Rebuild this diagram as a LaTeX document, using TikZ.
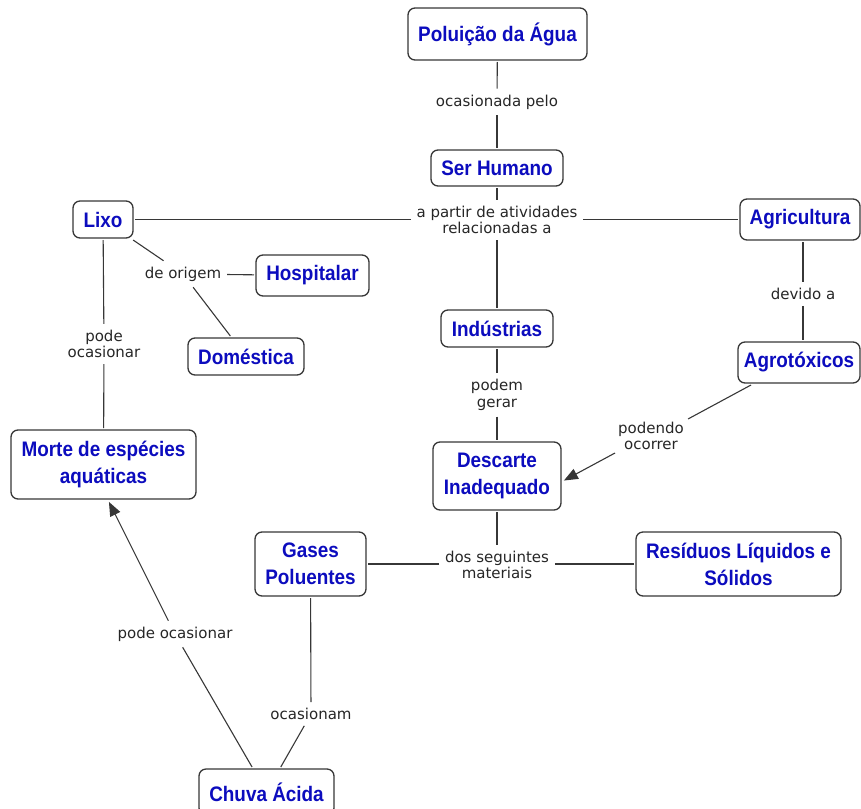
\documentclass[tikz,border=0pt]{standalone}
\usepackage{fontspec}
\usetikzlibrary{arrows.meta}
\newfontfamily\cfontfam[FakeStretch=0.9]{Liberation Sans}
\newfontfamily\lfontfam{DejaVu Sans}
\newcommand{\cfont}{\cfontfam\bfseries\fontsize{21}{27}\selectfont}
\newcommand{\lfont}{\lfontfam\fontsize{15}{16.5}\selectfont}
\definecolor{cblue}{RGB}{12,12,190}
\definecolor{lgray}{RGB}{55,55,55}
\tikzset{
  concept/.style={draw=lgray, line width=1.3pt, rounded corners=7pt, fill=white,
    font=\cfont, text=cblue, align=center, inner sep=2pt, outer sep=2pt},
  lbl/.style={font=\lfont, text=black!85, align=center, inner sep=3pt, outer sep=3pt},
  conn/.style={draw=lgray, line width=1.1pt},
  arr/.style={conn, -{Triangle[length=14pt,width=11pt]}, shorten >=1pt}
}
\begin{document}
\begin{tikzpicture}[x=1pt,y=-1pt]
\useasboundingbox (0,0) rectangle (861,808);
% concepts
\node[concept, minimum width=179, minimum height=52] (pol) at (497.5,34) {Poluição da Água};
\node[concept, minimum width=132, minimum height=36] (ser) at (497,168) {Ser Humano};
\node[concept, minimum width=60, minimum height=37] (lixo) at (103,219.5) {Lixo};
\node[concept, minimum width=120, minimum height=41] (agri) at (800,219.5) {Agricultura};
\node[concept, minimum width=113, minimum height=41] (hosp) at (312.5,275.5) {Hospitalar};
\node[concept, minimum width=116, minimum height=37] (dom) at (246,356.5) {Doméstica};
\node[concept, minimum width=112, minimum height=37] (ind) at (497,328.5) {Indústrias};
\node[concept, minimum width=122, minimum height=41] (agro) at (799,362.5) {Agrotóxicos};
\node[concept, minimum width=185, minimum height=69] (morte) at (103.5,464.5) {Morte de espécies\\aquáticas};
\node[concept, minimum width=128, minimum height=68] (desc) at (497,476) {Descarte\\Inadequado};
\node[concept, minimum width=111, minimum height=64] (gases) at (310.5,564) {Gases\\Poluentes};
\node[concept, minimum width=205, minimum height=64] (res) at (738.5,564) {Resíduos Líquidos e\\Sólidos};
\node[concept, minimum width=135, minimum height=46] (chuva) at (266.5,792) {Chuva Ácida};
% labels
\node[lbl] (l1) at (497,102) {ocasionada pelo};
\node[lbl] (l2) at (497,220) {a partir de atividades\\relacionadas a};
\node[lbl] (l3) at (183,274) {de origem};
\node[lbl] (l4) at (104,344) {pode\\ocasionar};
\node[lbl] (l5) at (803,294) {devido a};
\node[lbl] (l6) at (497,395) {podem\\gerar};
\node[lbl] (l7) at (651,436) {podendo\\ocorrer};
\node[lbl] (l8) at (497,565) {dos seguintes\\materiais};
\node[lbl] (l9) at (175,634) {pode ocasionar};
\node[lbl] (l10) at (311,714) {ocasionam};
\coordinate (l7in) at (688,419);
\coordinate (l7out) at (615,453);
% connectors
\draw[conn] (pol) -- (l1);
\draw[conn] (l1) -- (ser);
\draw[conn] (ser) -- (l2);
\draw[conn] (l2.west |- lixo) -- (lixo.east);
\draw[conn] (l2.east |- agri) -- (agri.west);
\draw[conn] (l2) -- (ind);
\draw[conn] (lixo) -- (l3);
\draw[conn] (l3) -- (hosp);
\draw[conn] (l3) -- (dom);
\draw[conn] (lixo) -- (l4);
\draw[conn] (l4) -- (morte);
\draw[conn] (agri.south -| l5) -- (l5);
\draw[conn] (l5) -- (agro.north -| l5);
\draw[conn] ([xshift=15pt]agro.south west) -- (l7in);
\draw[arr] (l7out) -- ([yshift=-5pt]desc.east);
\draw[conn] (ind) -- (l6);
\draw[conn] (l6) -- (desc);
\draw[conn] (desc) -- (l8);
\draw[conn] (l8.west |- gases) -- (gases.east);
\draw[conn] (l8.east |- res) -- (res.west);
\draw[conn] (gases) -- (l10);
\draw[conn] (l10) -- (chuva);
\draw[conn] (chuva) -- (l9);
\draw[arr] (l9) -- ([xshift=5pt]morte.south);
\end{tikzpicture}
\end{document}
